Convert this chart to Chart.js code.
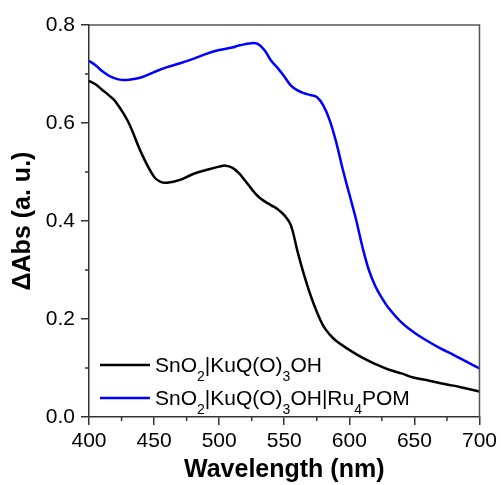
<!DOCTYPE html>
<html>
<head>
<meta charset="utf-8">
<script src="https://cdn.jsdelivr.net/npm/chart.js@4.4.1/dist/chart.umd.min.js"></script>
<style>
  html, body { margin: 0; padding: 0; background: #fff; }
  #wrap { width: 501px; height: 485px; }
</style>
</head>
<body>
<div id="wrap"><canvas id="chart"></canvas></div>
<script>
// wavelengths (nm) for each curve
var wlBare = [400, 405, 410, 415, 420, 430, 440, 450, 455, 460, 470, 480, 490, 500, 505, 510, 515, 520, 525, 530, 535, 540, 545, 550, 555, 560, 565, 570, 575, 580, 585, 590, 600, 610, 620, 630, 640, 650, 660, 670, 680, 690, 700];
var absBare = [0.686, 0.679, 0.668, 0.657, 0.645, 0.603, 0.540, 0.490, 0.480, 0.478, 0.484, 0.496, 0.504, 0.511, 0.513, 0.509, 0.498, 0.482, 0.465, 0.450, 0.440, 0.432, 0.424, 0.412, 0.392, 0.340, 0.292, 0.250, 0.215, 0.186, 0.168, 0.155, 0.137, 0.121, 0.108, 0.097, 0.089, 0.080, 0.075, 0.069, 0.064, 0.058, 0.052];

var wlPom = [400, 405, 410, 415, 420, 425, 430, 440, 450, 460, 470, 480, 490, 500, 510, 515, 520, 525, 530, 535, 540, 545, 550, 555, 560, 565, 570, 575, 580, 585, 590, 595, 600, 605, 610, 615, 620, 625, 630, 640, 650, 660, 670, 680, 690, 700];
var absPom = [0.727, 0.718, 0.706, 0.697, 0.691, 0.688, 0.688, 0.693, 0.704, 0.714, 0.722, 0.731, 0.741, 0.749, 0.754, 0.758, 0.761, 0.763, 0.761, 0.748, 0.727, 0.712, 0.695, 0.677, 0.667, 0.661, 0.657, 0.653, 0.636, 0.605, 0.560, 0.505, 0.455, 0.405, 0.348, 0.300, 0.267, 0.243, 0.223, 0.193, 0.172, 0.155, 0.140, 0.127, 0.113, 0.099];

var xTicks = [400, 450, 500, 550, 600, 650, 700];
var yTicks = [0.0, 0.2, 0.4, 0.6, 0.8];

// legend entries: [text, subscript] pieces
var legendItems = [
  { color: '#000000', parts: [['SnO', 0], ['2', 1], ['|KuQ(O)', 0], ['3', 1], ['OH', 0]] },
  { color: '#0000ff', parts: [['SnO', 0], ['2', 1], ['|KuQ(O)', 0], ['3', 1], ['OH|Ru', 0], ['4', 1], ['POM', 0]] }
];

function pts(xs, ys) {
  var out = [];
  for (var i = 0; i < xs.length; i++) out.push({ x: xs[i], y: ys[i] });
  return out;
}

var FONT = "'Liberation Sans', Arial, sans-serif";
var AXIS = '#333333';

// frame (top/right), minor ticks, legend with subscripts
var extras = {
  id: 'extras',
  afterDraw: function(chart) {
    var ctx = chart.ctx, a = chart.chartArea;
    var xs = chart.scales.x, ys = chart.scales.y;
    ctx.save();
    ctx.strokeStyle = '#555555';
    ctx.lineWidth = 1.5;
    ctx.beginPath();
    ctx.moveTo(a.left, a.top);
    ctx.lineTo(a.right, a.top);
    ctx.lineTo(a.right, a.bottom);
    ctx.stroke();

    ctx.strokeStyle = AXIS;
    ctx.beginPath();
    for (var v = 425; v < 700; v += 50) {
      var px = xs.getPixelForValue(v);
      ctx.moveTo(px, a.bottom);
      ctx.lineTo(px, a.bottom + 4);
    }
    for (var w = 0.1; w < 0.8; w += 0.2) {
      var py = ys.getPixelForValue(w);
      ctx.moveTo(a.left, py);
      ctx.lineTo(a.left - 4, py);
    }
    ctx.stroke();

    // legend
    var lx = 100, ly = 365, gap = 33;
    ctx.textBaseline = 'alphabetic';
    legendItems.forEach(function(it, i) {
      var y = ly + i * gap;
      ctx.strokeStyle = it.color;
      ctx.lineWidth = 2.5;
      ctx.beginPath();
      ctx.moveTo(lx, y);
      ctx.lineTo(lx + 50, y);
      ctx.stroke();
      var tx = lx + 55;
      ctx.fillStyle = '#000';
      it.parts.forEach(function(p) {
        if (p[1]) {
          ctx.font = '14px ' + FONT;
          ctx.fillText(p[0], tx, y + 16);
        } else {
          ctx.font = '21px ' + FONT;
          ctx.fillText(p[0], tx, y + 7);
        }
        tx += ctx.measureText(p[0]).width;
      });
    });
    ctx.restore();
  }
};

new Chart(document.getElementById('chart'), {
  type: 'line',
  data: {
    datasets: [
      { label: 'SnO2|KuQ(O)3OH', data: pts(wlBare, absBare), borderColor: '#000000', borderWidth: 2.5, pointRadius: 0, tension: 0.4, fill: false },
      { label: 'SnO2|KuQ(O)3OH|Ru4POM', data: pts(wlPom, absPom), borderColor: '#0000ff', borderWidth: 2.5, pointRadius: 0, tension: 0.4, fill: false }
    ]
  },
  options: {
    responsive: true,
    maintainAspectRatio: false,
    animation: false,
    layout: { padding: { left: 0, top: 25, right: 18, bottom: 0 } },
    plugins: { legend: { display: false }, tooltip: { enabled: false } },
    scales: {
      x: {
        type: 'linear', min: 400, max: 700,
        afterFit: function(s) { s.height = 68; },
        afterBuildTicks: function(s) { s.ticks = xTicks.map(function(v) { return { value: v }; }); },
        grid: { drawOnChartArea: false, drawTicks: true, tickLength: 8, color: AXIS, lineWidth: 1.5 },
        border: { display: true, color: AXIS, width: 1.5 },
        ticks: { color: '#000', font: { family: FONT, size: 21 }, padding: 4, maxRotation: 0 },
        title: { display: true, text: 'Wavelength (nm)', color: '#000', font: { family: FONT, size: 25, weight: 'bold' }, padding: { top: 0, bottom: 0 } }
      },
      y: {
        type: 'linear', min: 0, max: 0.8,
        afterFit: function(s) { s.width = 89; },
        afterBuildTicks: function(s) { s.ticks = yTicks.map(function(v) { return { value: v }; }); },
        grid: { drawOnChartArea: false, drawTicks: true, tickLength: 8, color: AXIS, lineWidth: 1.5 },
        border: { display: true, color: AXIS, width: 1.5 },
        ticks: { color: '#000', font: { family: FONT, size: 21 }, padding: 6, callback: function(v) { return Number(v).toFixed(1); } },
        title: { display: true, text: '\u0394Abs (a. u.)', color: '#000', font: { family: FONT, size: 25, weight: 'bold' }, padding: { top: 8, bottom: 0 } }
      }
    }
  },
  plugins: [extras]
});
</script>
</body>
</html>
